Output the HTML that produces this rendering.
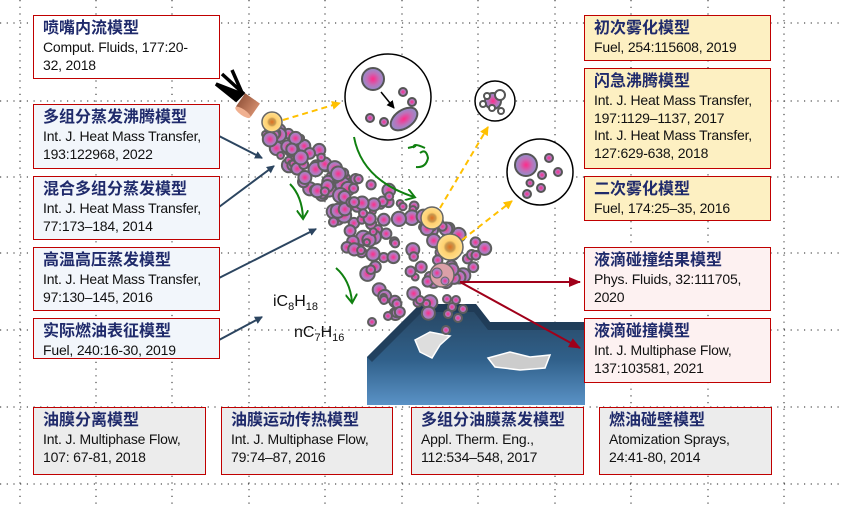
<!DOCTYPE html>
<html><head><meta charset="utf-8"><style>
body{margin:0;width:842px;height:507px;background:#fff;position:relative;overflow:hidden;font-family:"Liberation Sans","Noto Sans CJK SC",sans-serif}
.b{position:absolute;box-sizing:border-box;border:1.5px solid #c00000;padding:3px 9px;font-size:14px;line-height:17.5px;color:#111;letter-spacing:-0.2px}
.b b{display:block;color:#1f2a6b;font-size:16px;line-height:20px;letter-spacing:0}
.w{background:#fff}.l{background:#f2f6fb}.y{background:#fdf0c2}.p{background:#fdf1f1}.g{background:#ececec}
svg{position:absolute;left:0;top:0}
</style></head><body>
<svg width="842" height="507" id="s">
<defs>
<radialGradient id="dr"><stop offset="0" stop-color="#ff2b8a"/><stop offset="0.55" stop-color="#c070b8"/><stop offset="1" stop-color="#9090cc"/></radialGradient>
<radialGradient id="yl"><stop offset="0" stop-color="#e07020"/><stop offset="0.35" stop-color="#c89a50"/><stop offset="0.5" stop-color="#ffd070"/><stop offset="1" stop-color="#ffe090"/></radialGradient>
<linearGradient id="wl" x1="0" y1="0" x2="0" y2="1"><stop offset="0" stop-color="#27445f"/><stop offset="0.55" stop-color="#30608a"/><stop offset="1" stop-color="#5a92c6"/></linearGradient>
<linearGradient id="nz" x1="0" y1="0" x2="1" y2="0"><stop offset="0" stop-color="#9a5a40"/><stop offset="1" stop-color="#d08a6a"/></linearGradient>
<marker id="ab" markerWidth="8" markerHeight="8" refX="7" refY="4" orient="auto" markerUnits="userSpaceOnUse"><path d="M0,0L8,4L0,8z" fill="#2c4560"/></marker>
<marker id="ag" markerWidth="12" markerHeight="12" refX="8" refY="6" orient="auto" markerUnits="userSpaceOnUse"><path d="M0,0L9,6L0,12" fill="none" stroke="#108010" stroke-width="2"/></marker>
<marker id="ay" markerWidth="9" markerHeight="9" refX="8" refY="4.5" orient="auto" markerUnits="userSpaceOnUse"><path d="M0,0L9,4.5L0,9z" fill="#ffc000"/></marker>
<marker id="ar" markerWidth="12" markerHeight="10" refX="11" refY="5" orient="auto" markerUnits="userSpaceOnUse"><path d="M0,0L12,5L0,10z" fill="#a0001a"/></marker>
<marker id="ak" markerWidth="8" markerHeight="8" refX="7" refY="4" orient="auto" markerUnits="userSpaceOnUse"><path d="M0,0L8,4L0,8z" fill="#000"/></marker>
</defs>
<g id="grid" stroke="#222" stroke-width="1" stroke-dasharray="1.2 5.5"></g>
<polygon points="367,357 420,304 476,304 490,322 585,322 585,405 367,405" fill="url(#wl)"/>
<polygon points="367,357 420,304 476,304 490,322 585,322 585,330 488,330 474,312 422,312 372,362" fill="#1c3650" opacity="0.7"/>
<path d="M415,340 L430,332 L450,336 L440,345 L432,358 L420,352 Z" fill="#ddd" stroke="#fff" stroke-width="1.5"/>
<path d="M488,358 L510,352 L530,357 L550,355 L545,368 L520,370 L495,367 Z" fill="#ccc" stroke="#fff" stroke-width="1.5"/>
<g id="drops"></g>
<g transform="translate(248,105) rotate(35)"><rect x="-9" y="-8" width="18" height="16" fill="url(#nz)"/><ellipse cx="0" cy="9" rx="9" ry="3" fill="#f0b090"/></g>
<path d="M216,84 L242,94 L236,100 Z M222,74 L244,94 M232,70 L243,95" stroke="#000" stroke-width="3.5" fill="#000"/>
<circle cx="272" cy="122" r="10" fill="url(#yl)" stroke="#666" stroke-width="1.5"/>
<circle cx="432" cy="218" r="11" fill="url(#yl)" stroke="#666" stroke-width="1.5"/>
<circle cx="450" cy="247" r="13" fill="url(#yl)" stroke="#666" stroke-width="1.5"/>
<circle cx="442" cy="275" r="12" fill="#dba0a8" stroke="#666" stroke-width="1.5"/><circle cx="437" cy="273" r="5" fill="url(#dr)" stroke="#666"/><circle cx="445" cy="281" r="4" fill="url(#dr)" stroke="#666"/>
<g stroke="#ffc000" stroke-width="2" stroke-dasharray="6 4" fill="none">
<line x1="283" y1="120" x2="340" y2="103" marker-end="url(#ay)"/>
<line x1="440" y1="208" x2="488" y2="127" marker-end="url(#ay)"/>
<line x1="462" y1="240" x2="512" y2="201" marker-end="url(#ay)"/>
</g>
<g stroke="#000" stroke-width="1.5" fill="#fff">
<circle cx="388" cy="97" r="43"/><circle cx="495" cy="101" r="20"/><circle cx="540" cy="172" r="33"/>
</g>
<circle cx="373" cy="79" r="11" fill="url(#dr)" stroke="#555" stroke-width="2"/>
<ellipse cx="404" cy="119" rx="15" ry="9" transform="rotate(-35 404 119)" fill="url(#dr)" stroke="#555" stroke-width="2"/>
<line x1="381" y1="92" x2="394" y2="108" stroke="#000" stroke-width="1.5" marker-end="url(#ak)"/>
<g fill="url(#dr)" stroke="#555" stroke-width="2">
<circle cx="403" cy="92" r="4"/><circle cx="412" cy="102" r="4"/><circle cx="370" cy="118" r="4"/><circle cx="384" cy="122" r="4"/>
<circle cx="526" cy="165" r="11"/><circle cx="549" cy="158" r="4"/><circle cx="558" cy="172" r="4"/><circle cx="542" cy="175" r="4"/><circle cx="530" cy="183" r="3.5"/><circle cx="541" cy="188" r="4"/><circle cx="527" cy="194" r="4"/>
<circle cx="493" cy="101" r="8"/>
</g>
<g fill="#fff" stroke="#555" stroke-width="2"><circle cx="487" cy="96" r="3"/><circle cx="483" cy="104" r="3"/><circle cx="492" cy="108" r="3"/><circle cx="500" cy="95" r="5"/><circle cx="501" cy="111" r="3"/></g>
<g fill="none" stroke="#108010" stroke-width="2">
<path d="M354,137 Q362,180 414,197" marker-end="url(#ag)"/>
<path d="M290,184 Q302,196 303,218" marker-end="url(#ag)"/>
<path d="M336,268 Q350,280 352,302" marker-end="url(#ag)"/>
<path d="M420,153 Q426,148 428,158 Q426,168 416,167 M414,148 Q412,142 425,148 M408,148 L416,146" />
</g>
<g stroke="#2c4560" stroke-width="2" fill="none">
<line x1="219" y1="136" x2="262" y2="158" marker-end="url(#ab)"/>
<line x1="219" y1="207" x2="274" y2="166" marker-end="url(#ab)"/>
<line x1="219" y1="278" x2="316" y2="229" marker-end="url(#ab)"/>
<line x1="219" y1="340" x2="262" y2="317" marker-end="url(#ab)"/>
</g>
<g stroke="#a0001a" stroke-width="2" fill="none">
<line x1="460" y1="282" x2="580" y2="282" marker-end="url(#ar)"/>
<line x1="460" y1="282" x2="580" y2="348" marker-end="url(#ar)"/>
</g>
<text x="273" y="306" font-family="Liberation Sans" font-size="16" fill="#111">iC<tspan font-size="11" dy="4">8</tspan><tspan dy="-4">H</tspan><tspan font-size="11" dy="4">18</tspan></text>
<text x="294" y="337" font-family="Liberation Sans" font-size="16" fill="#111">nC<tspan font-size="11" dy="4">7</tspan><tspan dy="-4">H</tspan><tspan font-size="11" dy="4">16</tspan></text>
</svg>
<script>
var g=document.getElementById('grid'),h='';
[20,96,172,249,325,402,478,555,631,708,784].forEach(function(x){h+='<line x1="'+x+'" y1="0" x2="'+x+'" y2="507"/>';});
[23,101,177,253,330,407,484].forEach(function(y){h+='<line x1="0" y1="'+y+'" x2="842" y2="'+y+'"/>';});
g.innerHTML=h;
var s=11,r=function(){s=(s*16807)%2147483647;return s/2147483647;};
var d='';
for(var i=0;i<170;i++){var t=Math.pow(r(),0.85);var cx=270+t*180,cy=128+t*165;var w=8+t*50;var o=(r()-0.5)*2*w;cx+=o*0.67;cy-=o*0.74;var rad=3+r()*4.5;
d+='<circle cx="'+cx.toFixed(1)+'" cy="'+cy.toFixed(1)+'" r="'+rad.toFixed(1)+'" fill="url(#dr)" stroke="#5e5e5e" stroke-width="2"/>';}
[[447,299],[456,300],[452,307],[448,314],[463,309],[458,318],[446,330],[384,300],[388,316],[372,322],[420,300]].forEach(function(p){d+='<circle cx="'+p[0]+'" cy="'+p[1]+'" r="4" fill="url(#dr)" stroke="#5e5e5e" stroke-width="2"/>';});
document.getElementById('drops').innerHTML=d;
</script>
<div class="b w" style="left:33px;top:15px;width:187px;height:64px"><b>喷嘴内流模型</b>Comput. Fluids, 177:20-<br>32, 2018</div>
<div class="b l" style="left:33px;top:104px;width:187px;height:65px"><b>多组分蒸发沸腾模型</b>Int. J. Heat Mass Transfer, 193:122968, 2022</div>
<div class="b l" style="left:33px;top:176px;width:187px;height:64px"><b>混合多组分蒸发模型</b>Int. J. Heat Mass Transfer, 77:173–184, 2014</div>
<div class="b l" style="left:33px;top:247px;width:187px;height:64px"><b>高温高压蒸发模型</b>Int. J. Heat Mass Transfer, 97:130–145, 2016</div>
<div class="b l" style="left:33px;top:318px;width:187px;height:41px"><b>实际燃油表征模型</b>Fuel, 240:16-30, 2019</div>
<div class="b y" style="left:584px;top:15px;width:187px;height:46px"><b>初次雾化模型</b>Fuel, 254:115608, 2019</div>
<div class="b y" style="left:584px;top:68px;width:187px;height:101px"><b>闪急沸腾模型</b>Int. J. Heat Mass Transfer, 197:1129–1137, 2017<br>Int. J. Heat Mass Transfer, 127:629-638, 2018</div>
<div class="b y" style="left:584px;top:176px;width:187px;height:45px"><b>二次雾化模型</b>Fuel, 174:25–35, 2016</div>
<div class="b p" style="left:584px;top:247px;width:187px;height:64px"><b>液滴碰撞结果模型</b>Phys. Fluids, 32:111705, 2020</div>
<div class="b p" style="left:584px;top:318px;width:187px;height:65px"><b>液滴碰撞模型</b>Int. J. Multiphase Flow, 137:103581, 2021</div>
<div class="b g" style="left:33px;top:407px;width:173px;height:68px"><b>油膜分离模型</b>Int. J. Multiphase Flow, 107: 67-81, 2018</div>
<div class="b g" style="left:221px;top:407px;width:172px;height:68px"><b>油膜运动传热模型</b>Int. J. Multiphase Flow, 79:74–87, 2016</div>
<div class="b g" style="left:411px;top:407px;width:173px;height:68px"><b>多组分油膜蒸发模型</b>Appl. Therm. Eng., 112:534–548, 2017</div>
<div class="b g" style="left:599px;top:407px;width:173px;height:68px"><b>燃油碰壁模型</b>Atomization Sprays, 24:41-80, 2014</div>
</body></html>
